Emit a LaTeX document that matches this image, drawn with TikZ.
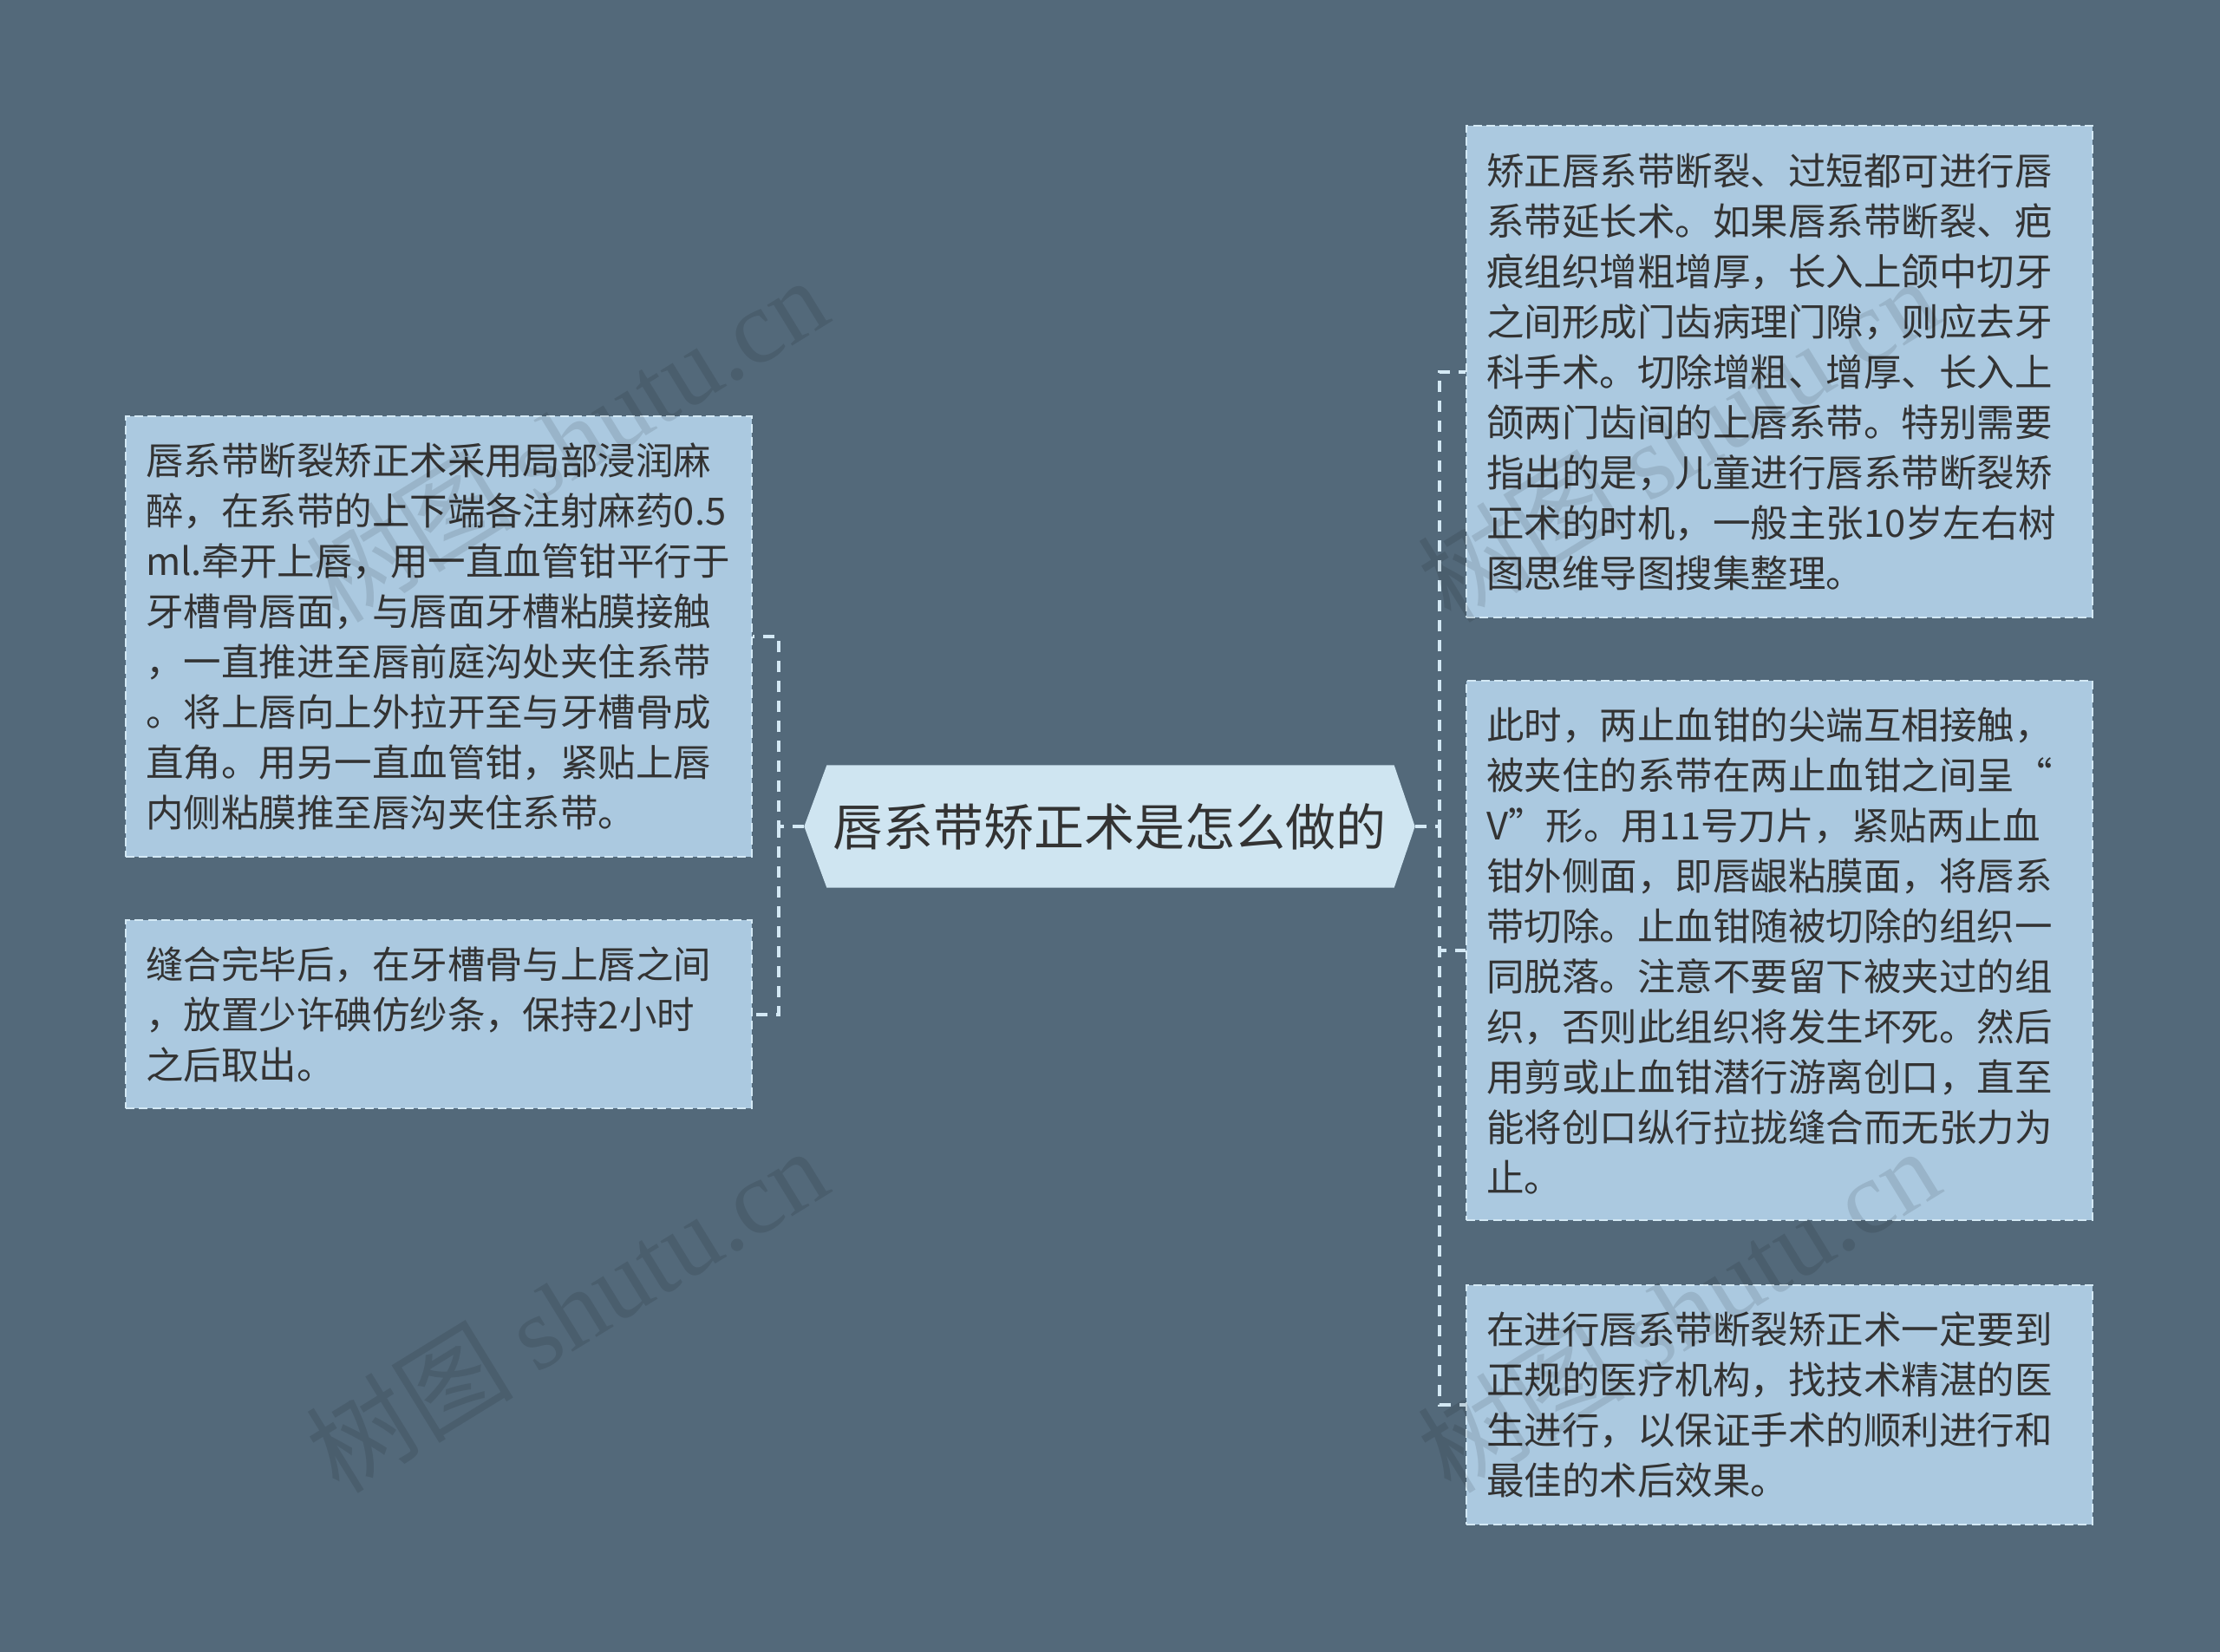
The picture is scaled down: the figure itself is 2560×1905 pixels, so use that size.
\documentclass[tikz,border=0pt]{standalone}
\usepackage{fontspec}
\setmainfont{Noto Sans CJK SC}
\newfontfamily\wmserif{Liberation Serif}
\newfontfamily\wmcjk{Noto Sans CJK SC}
\usetikzlibrary{backgrounds}
\definecolor{bgc}{HTML}{53697A}
\definecolor{boxc}{HTML}{ABC9E0}
\definecolor{centc}{HTML}{CFE5F1}
\definecolor{linec}{HTML}{D4E9F5}
\definecolor{textc}{HTML}{333333}
\begin{document}
\begin{tikzpicture}[x=0.3pt,y=-0.3pt,
  leaf/.style={draw=linec, line width=0.8pt, dash pattern=on 3pt off 1.6pt,
    fill=boxc, minimum width=216.6pt, text width=202.8pt, inner xsep=6.9pt,
    inner ysep=0pt, align=left, text=textc,
    font=\fontsize{13.05pt}{17.4pt}\selectfont},
  link/.style={draw=linec, line width=1.2pt, dash pattern=on 3.9pt off 3pt},
  rootnode/.style={minimum width=210.9pt, minimum height=42pt, inner sep=0pt,
    text=textc, font=\fontsize{17.4pt}{20pt}\selectfont},
  wmark/.style={rotate=31.6, text=black, opacity=0.1,
    font=\fontsize{36pt}{40pt}\selectfont}]
\useasboundingbox (0,0) rectangle (2560,1905);
\begin{pgfonlayer}{background}
\fill[bgc] (0,0) rectangle (2560,1905);
\end{pgfonlayer}

% central node
\node[rootnode] (c) at (1279.5,953) {唇系带矫正术是怎么做的};
\begin{pgfonlayer}{background}
\fill[centc] (c.west) -- ([xshift=7.8pt]c.north west) -- ([xshift=-7.2pt]c.north east)
  -- (c.east) -- ([xshift=-7.2pt]c.south east) -- ([xshift=7.8pt]c.south west) -- cycle;
\end{pgfonlayer}

% left leaves
\node[leaf, minimum height=152.4pt] (l1) at (506,734) {唇系带断裂矫正术采用局部浸润麻\\
醉，在系带的上下端各注射麻药0.5\\
ml.牵开上唇，用一直血管钳平行于\\
牙槽骨唇面，与唇面牙槽粘膜接触\\
，一直推进至唇前庭沟处夹住系带\\
。将上唇向上外拉开至与牙槽骨成\\
直角。用另一直血管钳，紧贴上唇\\
内侧粘膜推至唇沟夹住系带。};
\node[leaf, minimum height=65.1pt] (l2) at (506,1169.5) {缝合完毕后，在牙槽骨与上唇之间\\
，放置少许碘仿纱条，保持2小时\\
之后取出。};

% right leaves
\node[leaf, minimum height=170.1pt] (r1) at (2052,428.5) {矫正唇系带断裂、过短都可进行唇\\
系带延长术。如果唇系带断裂、疤\\
痕组织增粗增厚，长入上颌中切牙\\
之间形成门齿病理门隙，则应去牙\\
科手术。切除增粗、增厚、长入上\\
颌两门齿间的上唇系带。特别需要\\
指出的是，儿童进行唇系带断裂矫\\
正术的时机，一般主张10岁左右树\\
图思维导图搜集整理。};
\node[leaf, minimum height=186.6pt] (r2) at (2052,1096) {此时，两止血钳的尖端互相接触，\\
被夹住的系带在两止血钳之间呈“\\
V”形。用11号刀片，紧贴两止血\\
钳外侧面，即唇龈粘膜面，将唇系\\
带切除。止血钳随被切除的组织一\\
同脱落。注意不要留下被夹过的组\\
织，否则此组织将发生坏死。然后\\
用剪或止血钳潜行游离创口，直至\\
能将创口纵行拉拢缝合而无张力为\\
止。};
\node[leaf, minimum height=82.8pt] (r3) at (2052,1620) {在进行唇系带断裂矫正术一定要到\\
正规的医疗机构，找技术精湛的医\\
生进行，以保证手术的顺利进行和\\
最佳的术后效果。};

% connectors
\coordinate (lt) at (898,953);
\coordinate (rt) at (1660,953);
\draw[link] (c.west) -- (lt) |- (l1.east);
\draw[link] (lt) |- (l2.east);
\draw[link] (c.east) -- (rt) |- (r1.west);
\draw[link] (rt) |- (r2.west);
\draw[link] (rt) |- (r3.west);

% watermarks
\node[wmark] (w1) at (653,506) {\wmcjk 树图 \wmserif shutu.cn};
\node[wmark] (w2) at (653,1510) {\wmcjk 树图 \wmserif shutu.cn};
\node[wmark] (w3) at (1935,506) {\wmcjk 树图 \wmserif shutu.cn};
\node[wmark] (w4) at (1935,1510) {\wmcjk 树图 \wmserif shutu.cn};
\end{tikzpicture}
\end{document}
